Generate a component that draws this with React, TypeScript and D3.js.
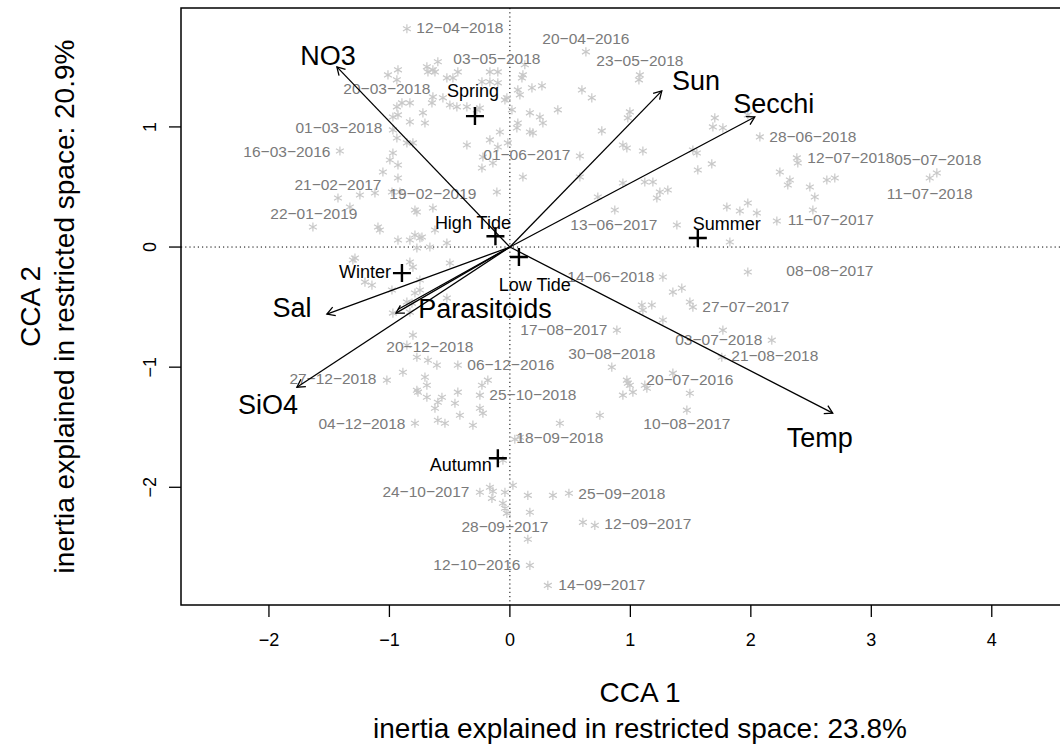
import * as d3 from "d3";

// sample scores (CCA1, CCA2)
const SITES: [number, number][] = [
  [-0.855, 1.817], [-0.929, 1.475], [-1.012, 1.433], [-0.938, 1.392], [-0.689, 1.5],
  [-0.639, 1.475], [-0.598, 1.542], [-0.68, 1.458], [-0.622, 1.458], [-0.523, 1.408],
  [-0.432, 1.458], [-0.473, 1.408], [-0.166, 1.458], [-0.1, 1.458], [-0.232, 1.375],
  [-0.166, 1.375], [-0.1, 1.367], [-0.896, 1.2], [-0.83, 1.2], [-0.938, 1.167],
  [-0.639, 1.25], [-0.556, 1.242], [-0.647, 1.2], [-0.498, 1.183], [-0.44, 1.167],
  [-0.357, 1.167], [-0.249, 1.158], [-0.274, 1.142], [-0.041, 1.225], [-0.971, 1.083],
  [-0.929, 1.1], [-0.722, 1.117], [-0.83, 1.042], [-0.705, 1.033], [-0.971, 0.975],
  [-0.938, 0.908], [-0.855, 0.867], [-0.805, 0.867], [-1.411, 0.8], [-0.971, 0.783],
  [-0.996, 0.725], [-0.929, 0.683], [-1.054, 0.625], [-0.929, 0.575], [-0.357, 0.85],
  [-0.166, 0.892], [-0.083, 0.958], [-0.224, 0.75], [-0.232, 0.658], [-0.141, 0.7],
  [-0.1, 0.833], [-0.108, 0.458], [-1.427, 0.408], [-1.245, 0.433], [-1.12, 0.45],
  [-0.979, 0.458], [-0.913, 0.458], [-1.328, 0.333], [-1.635, 0.167], [-1.095, 0.167],
  [-1.079, 0.142], [-0.772, 0.292], [-0.639, 0.325], [-0.622, 0.142], [-0.788, 0.1],
  [-0.929, 0.058], [-0.83, 0.058], [-0.747, 0.075], [-0.523, 0.033], [0.108, 0.583],
  [-0.788, 0.308], [-0.772, -0.008], [-0.664, 0], [-1.286, -0.092], [-0.498, -0.133],
  [-0.73, 0.083], [0.631, 1.625], [1.079, 1.433], [1.071, 1.392], [0.108, 1.433],
  [0.124, 1.517], [0.1, 1.408], [0.183, 1.325], [0.266, 1.342], [0.066, 1.308],
  [0.083, 1.267], [-0.025, 1.242], [0.598, 1.308], [0.68, 1.242], [0.017, 1.142],
  [0.166, 1.117], [0.249, 1.083], [0.274, 1.033], [0.066, 1.033], [0.058, 0.992],
  [0.166, 0.958], [0.191, 0.95], [0.398, 1.142], [0.763, 0.967], [0.996, 1.125],
  [0.979, 1.075], [0.938, 0.85], [0.971, 0.825], [1.104, 0.8], [0.581, 0.758],
  [-0.017, 0.867], [0.581, 0.583], [0.938, 0.533], [1.12, 0.542], [1.187, 0.542],
  [1.245, 0.458], [1.311, 0.475], [1.22, 0.408], [0.73, 0.417], [0.871, 0.308],
  [1.701, 1.075], [1.685, 1.0], [1.768, 0.992], [1.975, 1.1], [1.519, 0.808],
  [1.552, 0.783], [1.56, 0.642], [1.676, 0.692], [2.075, 0.917], [1.801, 0.333],
  [1.909, 0.3], [1.975, 0.367], [2.05, 0.283], [2.216, 0.217], [1.386, 0.183],
  [1.826, 0.042], [2.382, 0.742], [2.39, 0.7], [2.241, 0.625], [2.324, 0.558],
  [2.307, 0.517], [2.49, 0.5], [2.531, 0.417], [2.631, 0.558], [2.697, 0.575],
  [3.485, 0.575], [3.544, 0.617], [2.515, 0.308], [-1.303, -0.108], [-1.203, -0.292],
  [-1.145, -0.317], [-0.83, -0.125], [-0.805, -0.167], [-0.747, -0.275], [-0.747, -0.358],
  [-0.788, -0.383], [-0.979, -0.358], [-0.855, -0.458], [-0.813, -0.467], [-0.523, -0.425],
  [-0.971, -0.55], [-0.83, -0.542], [-0.805, -0.733], [-0.855, -0.817], [-0.772, -0.917],
  [-0.68, -0.942], [-0.606, -0.983], [-0.432, -0.983], [-1.021, -1.108], [-0.888, -1.042],
  [-0.705, -1.083], [-0.689, -1.15], [-0.772, -1.192], [-0.763, -1.208], [-0.689, -1.25],
  [-0.564, -1.25], [-0.598, -1.292], [-0.432, -1.208], [-0.232, -1.15], [-0.183, -1.108],
  [-0.249, -1.233], [-0.456, -1.3], [-0.622, -1.342], [-0.598, -1.442], [-0.539, -1.467],
  [-0.415, -1.4], [-0.249, -1.342], [-0.224, -1.383], [-0.307, -1.483], [-0.788, -1.467],
  [1.27, -0.25], [1.353, -0.375], [1.427, -0.342], [1.095, -0.483], [1.178, -0.483],
  [1.104, -0.525], [1.27, -0.608], [1.494, -0.458], [1.519, -0.5], [1.975, -0.208],
  [0.888, -0.692], [1.768, -0.692], [2.174, -0.775], [1.759, -0.917], [0.846, -1.0],
  [0.971, -1.108], [0.979, -1.133], [0.996, -1.15], [1.021, -1.208], [0.938, -1.233],
  [1.12, -1.15], [1.137, -1.175], [1.353, -1.05], [1.494, -1.217], [1.469, -1.358],
  [0.747, -1.4], [0.415, -1.467], [0.041, -1.6], [0.083, -1.583], [-0.058, -1.775],
  [0.025, -1.983], [-0.249, -2.042], [-0.166, -2.0], [-0.141, -2.033], [-0.149, -2.092],
  [-0.041, -2.042], [0.149, -2.067], [0.357, -2.067], [0.49, -2.05], [-0.058, -2.133],
  [-0.041, -2.175], [-0.025, -2.217], [0.166, -2.208], [0.606, -2.292], [0.705, -2.317],
  [0.149, -2.433], [0.166, -2.65], [0.315, -2.817],
];

// sampling-date labels, placed where they sit in the picture
const DATE_TEXT = [
  "12-04-2018", "20-04-2016", "03-05-2018", "23-05-2018", "20-03-2018", "01-03-2018",
  "16-03-2016", "21-02-2017", "19-02-2019", "22-01-2019", "01-06-2017", "13-06-2017",
  "28-06-2018", "12-07-2018", "05-07-2018", "11-07-2018", "11-07-2017", "14-06-2018",
  "08-08-2017", "27-07-2017", "17-08-2017", "03-07-2018", "21-08-2018", "30-08-2018",
  "20-07-2016", "10-08-2017", "18-09-2018", "06-12-2016", "25-10-2018", "20-12-2018",
  "27-12-2018", "04-12-2018", "24-10-2017", "25-09-2018", "28-09-2017", "12-09-2017",
  "12-10-2016", "14-09-2017",
];
const DATE_POS: [number, number][] = [
  [-0.415, 1.825], [0.631, 1.733], [-0.108, 1.567], [1.079, 1.55], [-1.021, 1.317], [-1.419, 0.992],
  [-1.851, 0.8], [-1.427, 0.525], [-0.639, 0.45], [-1.627, 0.283], [0.141, 0.767], [0.863, 0.192],
  [2.515, 0.925], [2.83, 0.75], [3.552, 0.733], [3.485, 0.45], [2.664, 0.233], [0.838, -0.242],
  [2.656, -0.192], [1.959, -0.492], [0.448, -0.683], [1.734, -0.767], [2.199, -0.9], [0.846, -0.883],
  [1.494, -1.1], [1.469, -1.467], [0.415, -1.583], [0.008, -0.975], [0.191, -1.225], [-0.664, -0.825],
  [-1.469, -1.092], [-1.228, -1.467], [-0.697, -2.033], [0.929, -2.05], [-0.041, -2.325], [1.145, -2.3],
  [-0.274, -2.642], [0.763, -2.808],
];

// environmental vectors
const VAR_NAMES = ["NO3", "Sun", "Secchi", "Temp", "Sal", "SiO4", "Parasitoids"];
const VAR_TIPS: [number, number][] = [
  [-1.436, 1.5], [1.261, 1.3], [2.033, 1.083], [2.68, -1.383], [-1.519, -0.558], [-1.768, -1.167], [-0.946, -0.55],
];
const VAR_LABELS: [number, number][] = [
  [-1.51, 1.6], [1.544, 1.392], [2.19, 1.2], [2.573, -1.583], [-1.809, -0.5], [-2.008, -1.308], [-0.207, -0.508],
];
// second, nearly overlapping parasitoid vector
const EXTRA_TIP: [number, number] = [-0.93, -0.52];

// factor centroids
const CENTROID_NAMES = ["Spring", "High Tide", "Low Tide", "Summer", "Winter", "Autumn"];
const CENTROIDS: [number, number][] = [
  [-0.29, 1.09], [-0.12, 0.09], [0.075, -0.083], [1.56, 0.075], [-0.896, -0.217], [-0.1, -1.758],
];
const CENTROID_LABELS: [number, number][] = [
  [-0.307, 1.3], [-0.307, 0.208], [0.207, -0.308], [1.801, 0.192], [-1.203, -0.2], [-0.407, -1.808],
];

const X_TICKS = [-2, -1, 0, 1, 2, 3, 4];
const Y_TICKS = [-2, -1, 0, 1];

const FONT = "'Liberation Sans', Arial, Helvetica, sans-serif";
const minus = (s: string) => s.replace(/-/g, "\u2212");

export default function App() {
  const W = 1060;
  const H = 746;
  const m = { left: 181, top: 8, right: 1099, bottom: 605 };

  const x = d3.scaleLinear().domain([-2.73, 4.89]).range([m.left, m.right]);
  const y = d3.scaleLinear().domain([-2.98, 1.99]).range([m.bottom, m.top]);
  const star = d3.symbol(d3.symbolAsterisk, 58)() as string;
  const cx = (m.left + m.right) / 2;
  const cy = (m.top + m.bottom) / 2;

  const arrowHead = (tx: number, ty: number) => {
    const x0 = x(0), y0 = y(0);
    const px = x(tx), py = y(ty);
    const a = Math.atan2(py - y0, px - x0);
    const L = 9, s = Math.PI / 6;
    return `M${px - L * Math.cos(a - s)},${py - L * Math.sin(a - s)}L${px},${py}L${px - L * Math.cos(a + s)},${py - L * Math.sin(a + s)}`;
  };

  return (
    <div style={{ position: "fixed", left: 0, top: 0, width: W, height: H, overflow: "hidden", background: "#fff" }}>
      <svg width={W} height={H} style={{ display: "block", fontFamily: FONT }}>
        <defs>
          <clipPath id="plot">
            <rect x={m.left} y={m.top} width={m.right - m.left} height={m.bottom - m.top} />
          </clipPath>
        </defs>

        {/* zero lines */}
        <g stroke="#000" strokeWidth={1} strokeDasharray="1.2,3">
          <line x1={x(0)} x2={x(0)} y1={m.top} y2={m.bottom} />
          <line x1={m.left} x2={m.right} y1={y(0)} y2={y(0)} />
        </g>

        {/* sites */}
        <g clipPath="url(#plot)" stroke="#c8c8c8" strokeWidth={1.2} fill="none">
          {SITES.map(([a, b], i) => (
            <path key={i} d={star} transform={`translate(${x(a)},${y(b)})`} />
          ))}
        </g>

        {/* date labels */}
        <g fill="#7a7a7a" fontSize={15.5} textAnchor="middle">
          {DATE_TEXT.map((t, i) => (
            <text key={t + i} x={x(DATE_POS[i][0])} y={y(DATE_POS[i][1])} dy="0.36em">
              {minus(t)}
            </text>
          ))}
        </g>

        {/* vectors */}
        <g stroke="#000" strokeWidth={1.3} fill="none">
          {VAR_TIPS.map(([a, b], i) => (
            <g key={i}>
              <line x1={x(0)} y1={y(0)} x2={x(a)} y2={y(b)} />
              <path d={arrowHead(a, b)} />
            </g>
          ))}
          <line x1={x(0)} y1={y(0)} x2={x(EXTRA_TIP[0])} y2={y(EXTRA_TIP[1])} />
        </g>
        <g fill="#000" fontSize={27} textAnchor="middle">
          {VAR_NAMES.map((n, i) => (
            <text key={n} x={x(VAR_LABELS[i][0])} y={y(VAR_LABELS[i][1])} dy="0.36em">
              {n}
            </text>
          ))}
        </g>

        {/* centroids */}
        <g stroke="#000" strokeWidth={2.4}>
          {CENTROIDS.map(([a, b], i) => (
            <path key={i} d={`M${x(a) - 9},${y(b)}H${x(a) + 9}M${x(a)},${y(b) - 9}V${y(b) + 9}`} />
          ))}
        </g>
        <g fill="#000" fontSize={18} textAnchor="middle">
          {CENTROID_NAMES.map((n, i) => (
            <text key={n} x={x(CENTROID_LABELS[i][0])} y={y(CENTROID_LABELS[i][1])} dy="0.36em">
              {n}
            </text>
          ))}
        </g>

        {/* frame */}
        <rect x={m.left} y={m.top} width={m.right - m.left} height={m.bottom - m.top} fill="none" stroke="#000" strokeWidth={1.5} />

        {/* axes */}
        <g stroke="#000" strokeWidth={1.3}>
          {X_TICKS.map((t) => (
            <line key={t} x1={x(t)} x2={x(t)} y1={m.bottom} y2={m.bottom + 12} />
          ))}
          {Y_TICKS.map((t) => (
            <line key={t} x1={m.left} x2={m.left - 12} y1={y(t)} y2={y(t)} />
          ))}
        </g>
        <g fontSize={18} textAnchor="middle" fill="#000">
          {X_TICKS.map((t) => (
            <text key={t} x={x(t)} y={m.bottom + 35} dy="0.36em">
              {minus(String(t))}
            </text>
          ))}
          {Y_TICKS.map((t) => (
            <text key={t} transform={`translate(${m.left - 31},${y(t)}) rotate(-90)`} dy="0.36em">
              {minus(String(t))}
            </text>
          ))}
        </g>

        {/* axis titles */}
        <g fontSize={28} textAnchor="middle" fill="#000">
          <text x={cx} y={692} dy="0.36em">CCA 1</text>
          <text x={cx} y={728} dy="0.36em">inertia explained in restricted space: 23.8%</text>
          <text transform={`translate(30,${cy}) rotate(-90)`} dy="0.36em">CCA 2</text>
          <text transform={`translate(64,${cy}) rotate(-90)`} dy="0.36em">inertia explained in restricted space: 20.9%</text>
        </g>
      </svg>
    </div>
  );
}
